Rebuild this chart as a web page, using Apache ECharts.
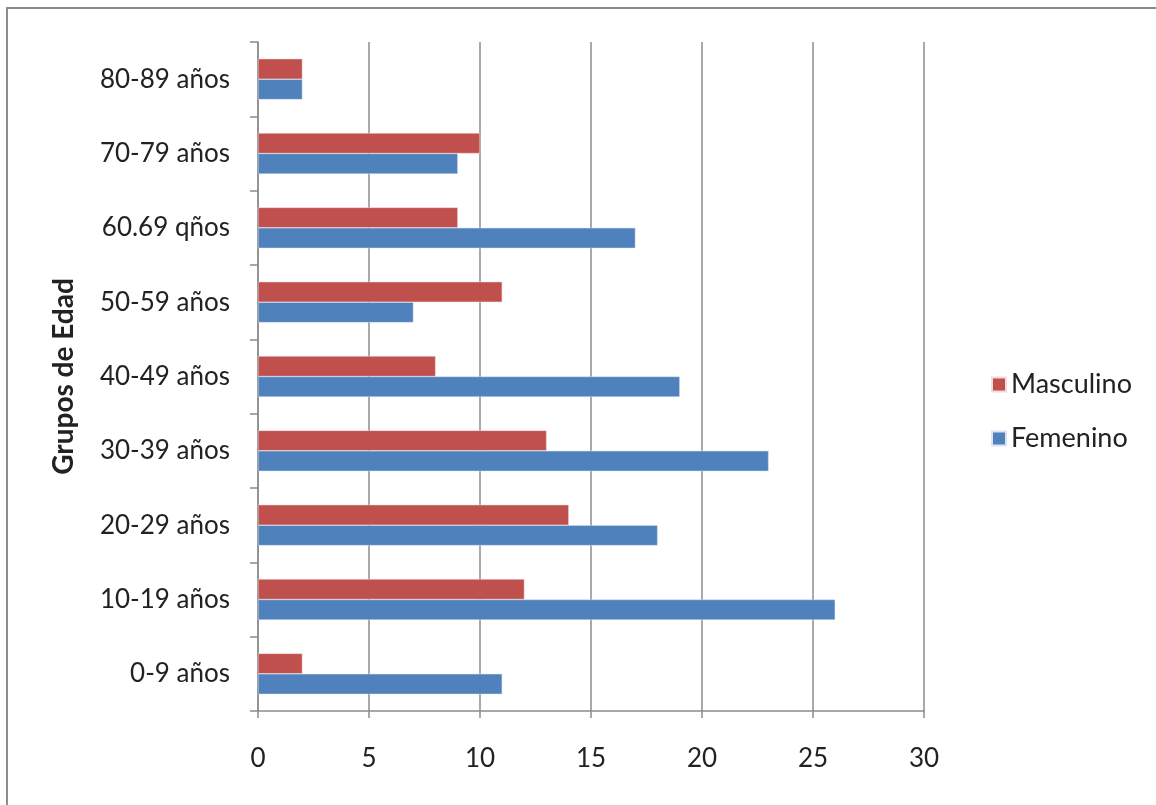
<!DOCTYPE html>
<html>
<head>
<meta charset="utf-8">
<script src="https://cdn.jsdelivr.net/npm/echarts@6/dist/echarts.min.js"></script>
<style>
  html, body { margin: 0; padding: 0; background: #fff; }
  #frame {
    position: absolute; left: 6px; top: 7px; width: 1160px; height: 810px;
    border-left: 2px solid #8c8c8c; border-top: 2px solid #8c8c8c;
  }
  #chart { position: absolute; left: 0; top: 0; width: 1156px; height: 805px; }
</style>
</head>
<body>
<div id="frame"></div>
<div id="chart"></div>
<script>
const categories = ['0-9 años', '10-19 años', '20-29 años', '30-39 años', '40-49 años',
                    '50-59 años', '60.69 qños', '70-79 años', '80-89 años'];
const masculino = [2, 12, 14, 13, 8, 11, 9, 10, 2];
const femenino = [11, 26, 18, 23, 19, 7, 17, 9, 2];
const xTicks = [0, 5, 10, 15, 20, 25, 30];

document.addEventListener('DOMContentLoaded', function() {
    const chart = echarts.init(document.getElementById('chart'));
    const font = 'Lato, "Open Sans", sans-serif';
    const option = {
        animation: false,
        textStyle: { fontFamily: font },
        grid: { left: 258, right: 232, top: 42, bottom: 94 },
        legend: {
            data: ['Masculino', 'Femenino'],
            orient: 'vertical',
            left: 986, top: 366,
            itemWidth: 14, itemHeight: 14,
            itemGap: 27,
            icon: 'rect',
            textStyle: { fontSize: 27, color: '#222', fontFamily: font }
        },
        xAxis: {
            type: 'value',
            min: xTicks[0], max: xTicks[xTicks.length - 1], interval: 5,
            axisLine: { show: true, lineStyle: { color: '#8c8c8c', width: 1.5 } },
            axisTick: { show: true, length: 7, lineStyle: { color: '#8c8c8c', width: 1.5 } },
            splitLine: { show: true, lineStyle: { color: '#8c8c8c', width: 1.5 } },
            axisLabel: { fontSize: 26, color: '#222', margin: 35 }
        },
        yAxis: {
            type: 'category',
            data: categories,
            name: 'Grupos de Edad',
            nameLocation: 'middle',
            nameRotate: 90,
            nameGap: 180,
            nameTextStyle: { fontSize: 28, fontWeight: 'bold', color: '#222' },
            axisLine: { show: true, lineStyle: { color: '#8c8c8c', width: 1.5 } },
            axisTick: { show: true, length: 8, lineStyle: { color: '#8c8c8c', width: 1.5 } },
            axisLabel: { fontSize: 26, color: '#222', margin: 28 }
        },
        series: [
            {
                name: 'Masculino', type: 'bar', data: masculino,
                barGap: '0%', barCategoryGap: '45%',
                itemStyle: { color: '#C0504D', borderColor: '#f2dcdb', borderWidth: 0.5 }
            },
            {
                name: 'Femenino', type: 'bar', data: femenino,
                barGap: '0%', barCategoryGap: '45%',
                itemStyle: { color: '#4F81BD', borderColor: '#dbe5f1', borderWidth: 0.5 }
            }
        ]
    };
    chart.setOption(option);
});
</script>
</body>
</html>
